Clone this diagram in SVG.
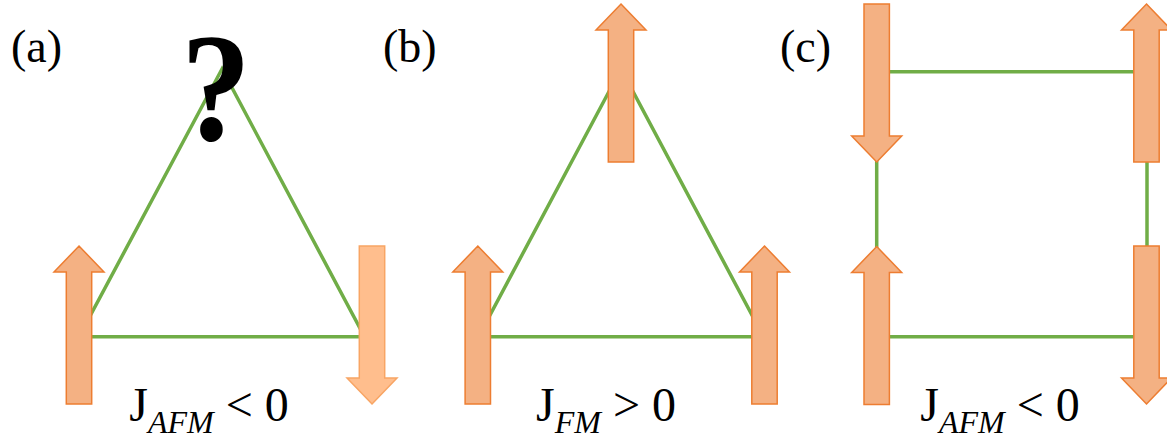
<svg xmlns="http://www.w3.org/2000/svg" xmlns:xlink="http://www.w3.org/1999/xlink" width="1167" height="438" viewBox="0 0 1167 438">
<style>
.edge{stroke:#70AD47;stroke-width:3.5;fill:none}
.arrow{fill:#F4B183;stroke:#ED7D31;stroke-width:1.5;stroke-linejoin:miter}
.arrow.light{fill:#FFBE8D;stroke:#F8A564}
.lbl{font-family:"Liberation Serif","Times New Roman",serif;font-size:46px;fill:#000}
.eq{font-family:"Liberation Serif","Times New Roman",serif;font-size:48px;fill:#000}
.sub{font-style:italic;font-size:32px}
.q{font-family:"Liberation Serif","Times New Roman",serif;font-size:152px;font-weight:bold;fill:#000}
</style>
<defs>
<path id="up" d="M0,0 L25,26 L12.7,26 L12.7,158 L-12.7,158 L-12.7,26 L-25,26 Z"/>
</defs>
<rect width="1167" height="438" fill="#fff"/>
<g id="connectors">
<polygon class="edge" points="222,69 79,336.7 364.5,336.7"/>
<polygon class="edge" points="621,69 478.5,336.7 763.5,336.7"/>
<polygon class="edge" points="876.7,71.7 1147,71.7 1147,336.7 876.7,336.7"/>
</g>
<g id="a-left"><use xlink:href="#up" class="arrow" transform="translate(79,246)"/></g>
<g id="a-right"><use xlink:href="#up" class="arrow light" transform="translate(372,404) scale(1,-1)"/></g>
<g id="b-top"><use xlink:href="#up" class="arrow" transform="translate(621,4)"/></g>
<g id="b-left"><use xlink:href="#up" class="arrow" transform="translate(477.8,246)"/></g>
<g id="b-right"><use xlink:href="#up" class="arrow" transform="translate(764.5,246)"/></g>
<g id="c-tl"><use xlink:href="#up" class="arrow" transform="translate(876.7,162) scale(1,-1)"/></g>
<g id="c-tr"><use xlink:href="#up" class="arrow" transform="translate(1146.5,4)"/></g>
<g id="c-bl"><use xlink:href="#up" class="arrow" transform="translate(876.7,246.5)"/></g>
<g id="c-br"><use xlink:href="#up" class="arrow" transform="translate(1146.5,404) scale(1,-1)"/></g>
<g id="question"><text class="q" x="0" y="0" text-anchor="middle" transform="translate(216,140) scale(0.92,1.02)">?</text></g>
<g id="labels">
<text class="lbl" x="11" y="62">(a)</text>
<text class="lbl" x="383" y="62">(b)</text>
<text class="lbl" x="780" y="62">(c)</text>
<text class="eq" x="209" y="421" text-anchor="middle">J<tspan class="sub" dy="12">AFM</tspan><tspan dy="-12"> &lt; 0</tspan></text>
<text class="eq" x="606" y="421" text-anchor="middle">J<tspan class="sub" dy="12">FM</tspan><tspan dy="-12"> &gt; 0</tspan></text>
<text class="eq" x="1000" y="421" text-anchor="middle">J<tspan class="sub" dy="12">AFM</tspan><tspan dy="-12"> &lt; 0</tspan></text>
</g>
</svg>
